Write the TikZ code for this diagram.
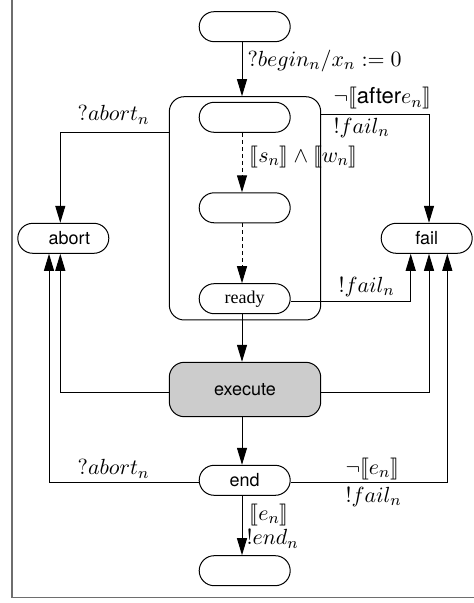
\documentclass[tikz,border=0pt]{standalone}
\usepackage{fontspec}
\usepackage{stmaryrd}
\setsansfont{TeX Gyre Heros}
\newfontfamily\timesfont{Liberation Serif}
\usetikzlibrary{arrows.meta}
\definecolor{framecol}{RGB}{110,110,110}
\begin{document}
\begin{tikzpicture}[x=0.5pt,y=-0.5pt, line width=0.5pt,
  st/.style={draw, rounded corners=7.5pt, minimum width=45.5pt, minimum height=15pt, inner sep=0pt, font=\sffamily\fontsize{9}{10}\selectfont},
  arr/.style={-{Triangle[length=8.5pt,width=5pt]}},
  dsh/.style={dash pattern=on 2pt off 1.5pt},
  lab/.style={inner sep=0pt, font=\fontsize{11}{13}\selectfont}]
\useasboundingbox (0,0) rectangle (474,603);
\draw[framecol, line width=0.75pt] (12,0) -- (12,597.5) -- (474,597.5);
% nodes
\node[st] (start) at (244.7,26.7) {};
\node[draw, rounded corners=7.5pt, minimum width=75.7pt, minimum height=111.65pt, inner sep=0pt] (box) at (245,208.35) {};
\node[st] (s1) at (244.7,117.3) {};
\node[st] (s2) at (244.7,207.8) {};
\node[st, font=\timesfont\fontsize{9}{10}\selectfont] (ready) at (244.7,298.7) {ready};
\node[st, fill=gray!40, minimum width=75.7pt, minimum height=27.2pt] (exec) at (245,389.5) {execute};
\node[st] (abort) at (63.3,238.3) {\hspace{6pt}abort};
\node[st] (fail) at (426.7,238.3) {fail};
\node[st] (end) at (244.7,480.3) {end};
\node[st] (fin) at (244.7,570.7) {};
% helper coordinates
\coordinate (sp) at (242,0);
\coordinate (la) at (60.3,0);
\coordinate (lb) at (49,0);
\coordinate (ra) at (429,0);
\coordinate (rb) at (447.3,0);
\coordinate (rc) at (410.7,0);
\coordinate (ya) at (0,132.3);
\coordinate (yb) at (0,114.3);
\coordinate (yr) at (0,301.7);
\coordinate (ye) at (0,392.3);
\coordinate (yf) at (0,482.7);
% spine
\draw[arr] (start.south -| sp) -- (box.north -| sp);
\draw[arr,dsh] (s1.south -| sp) -- (s2.north -| sp);
\draw[arr,dsh] (s2.south -| sp) -- (ready.north -| sp);
\draw[arr] (ready.south -| sp) -- (exec.north -| sp);
\draw[arr] (exec.south -| sp) -- (end.north -| sp);
\draw[arr] (end.south -| sp) -- (fin.north -| sp);
% side connectors
\draw[arr] (box.west |- ya) -- (la |- ya) -- (abort.north -| la);
\draw[arr] (box.east |- yb) -- (ra |- yb) -- (fail.north -| ra);
\draw[arr] (ready.east |- yr) -- (rc |- yr) -- (fail.south -| rc);
\draw[arr] (exec.west |- ye) -- (la |- ye) -- (abort.south -| la);
\draw[arr] (exec.east |- ye) -- (ra |- ye) -- (fail.south -| ra);
\draw[arr] (end.west |- yf) -- (lb |- yf) -- (abort.south -| lb);
\draw[arr] (end.east |- yf) -- (rb |- yf) -- (fail.south -| rb);
% labels
\node[lab, anchor=west] (l1) at (247,61) {$?begin_n/x_n := 0$};
\node[lab, anchor=west] (l2) at (249,157) {$\llbracket s_n\rrbracket \wedge \llbracket w_n\rrbracket$};
\node[lab] (l3) at (113.5,115) {$?abort_n$};
\node[lab, anchor=west] (l4) at (333,98.5) {$\neg\llbracket\textsf{after}e_n\rrbracket$};
\node[lab, anchor=west] (l5) at (333,128) {$!fail_n$};
\node[lab, anchor=west] (l6) at (338,287) {$!fail_n$};
\node[lab] (l7) at (113.5,469) {$?abort_n$};
\node[lab, anchor=west] (l8) at (345,469) {$\neg\llbracket e_n\rrbracket$};
\node[lab, anchor=west] (l9) at (345,497) {$!fail_n$};
\node[lab, anchor=west] (l10) at (249,515) {$\llbracket e_n\rrbracket$};
\node[lab, anchor=west] (l11) at (246,539) {$!end_n$};
\end{tikzpicture}
\end{document}
